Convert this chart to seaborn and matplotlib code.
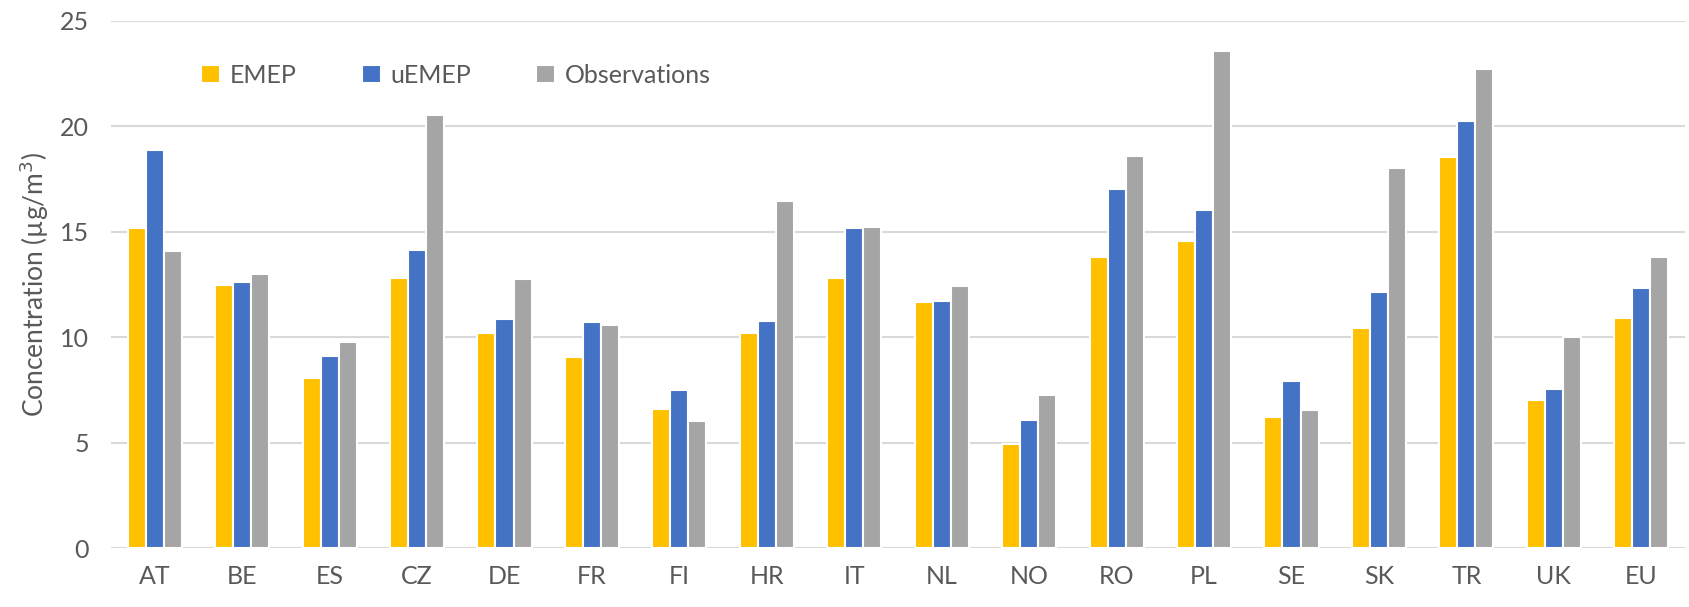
import pandas as pd
import matplotlib.pyplot as plt
import seaborn as sns

countries = ["AT", "BE", "ES", "CZ", "DE", "FR", "FI", "HR", "IT",
             "NL", "NO", "RO", "PL", "SE", "SK", "TR", "UK", "EU"]
emep = [15.16, 12.49, 8.06, 12.82, 10.20, 9.06, 6.59, 10.22, 12.82,
        11.66, 4.92, 13.80, 14.56, 6.23, 10.42, 18.54, 7.01, 10.93]
uemep = [18.90, 12.64, 9.11, 14.16, 10.87, 10.73, 7.48, 10.75, 15.20,
         11.71, 6.05, 17.03, 16.03, 7.93, 12.15, 20.26, 7.53, 12.35]
observations = [14.11, 12.98, 9.77, 20.52, 12.78, 10.60, 6.03, 16.47, 15.21,
                12.42, 7.28, 18.59, 23.57, 6.54, 18.01, 22.71, 9.99, 13.82]

series = ["EMEP", "uEMEP", "Observations"]
colors = ["#FFC000", "#4472C4", "#A5A5A5"]

df = pd.DataFrame({"country": countries, "EMEP": emep, "uEMEP": uemep,
                   "Observations": observations})
long = df.melt(id_vars="country", var_name="series", value_name="value")

sns.set_style("white")
plt.rcParams["font.family"] = ["Lato", "DejaVu Sans"]
text_color = "#595959"

fig = plt.figure(figsize=(16.9, 6.07), dpi=100)
ax = fig.add_axes([111 / 1690, 1 - 548 / 607, 1574 / 1690, 527 / 607])

sns.barplot(data=long, x="country", y="value", hue="series", hue_order=series,
            palette=colors, width=0.62, edgecolor="white", linewidth=1.5,
            saturation=1, ax=ax)

ax.set_ylim(0, 25)
ax.set_xlim(-0.5, len(countries) - 0.5)
ax.set_yticks([0, 5, 10, 15, 20, 25])
ax.yaxis.grid(True, color="#D9D9D9", linewidth=1.5)
ax.set_axisbelow(True)
for s in ax.spines.values():
    s.set_visible(False)
ax.tick_params(axis="both", length=0, labelsize=18, colors=text_color)
ax.tick_params(axis="x", pad=12)
ax.tick_params(axis="y", pad=16)
ax.set_xlabel("")
ax.set_ylabel("Concentration (µg/m$^3$)", fontsize=19, color=text_color, labelpad=6)

ax.legend(loc="upper left", bbox_to_anchor=(0.043, 0.962), ncol=3, frameon=False,
          fontsize=18, labelcolor=text_color, handlelength=0.75, handleheight=0.75,
          handletextpad=0.4, columnspacing=2.6)

fig.savefig("out.png", dpi=100)
